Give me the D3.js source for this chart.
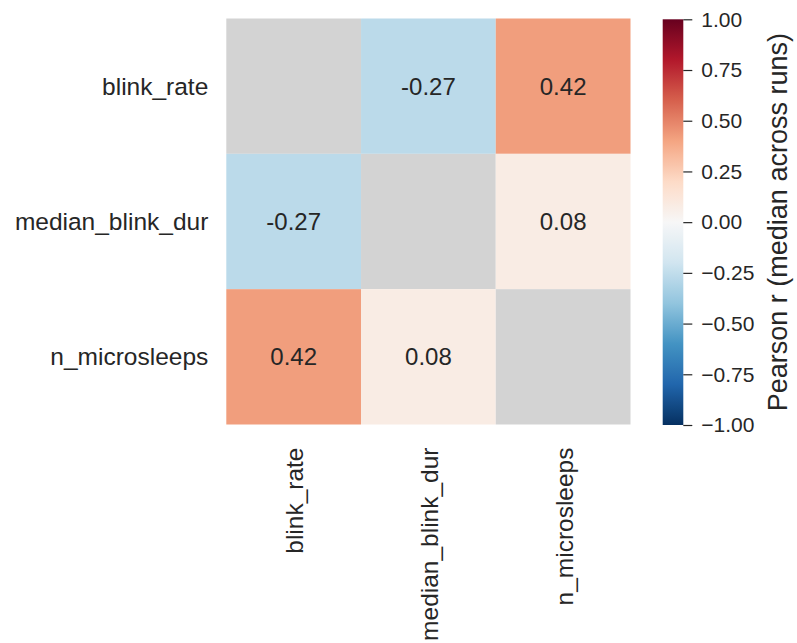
<!DOCTYPE html>
<html>
<head>
<meta charset="utf-8">
<script src="https://cdn.jsdelivr.net/npm/d3@7"></script>
<style>
  html, body { margin: 0; padding: 0; background: #fff; }
  svg text { font-family: "Liberation Sans", Arial, sans-serif; fill: #262626; }
</style>
</head>
<body>
<svg id="chart" width="797" height="643"></svg>
<script>
// Feature names (rows and columns of the correlation matrix)
const features = ["blink_rate", "median_blink_dur", "n_microsleeps"];
// Median Pearson r across runs; diagonal is masked (null)
const rowBlinkRate = [null, -0.27, 0.42];
const rowMedianDur = [-0.27, null, 0.08];
const rowMicrosleeps = [0.42, 0.08, null];
const matrix = [rowBlinkRate, rowMedianDur, rowMicrosleeps];
// Colorbar ticks
const cbarTicks = [-1.0, -0.75, -0.5, -0.25, 0.0, 0.25, 0.5, 0.75, 1.0];
const cbarLabel = "Pearson r (median across runs)";

// RdBu_r palette stops (diverging, blue for negative, red for positive)
const rdbuStops = ["#053061", "#2166ac", "#4393c3", "#92c5de", "#d1e5f0", "#f7f7f7",
                   "#fddbc7", "#f4a582", "#d6604d", "#b2182b", "#67001f"];
const color = d3.scaleLinear()
  .domain(d3.range(11).map(i => -1 + i * 0.2))
  .range(rdbuStops)
  .interpolate(d3.interpolateRgb)
  .clamp(true);

const svg = d3.select("#chart");
const plot = { left: 226.3, top: 18.5, right: 630.5, bottom: 424.5 };

const x = d3.scaleBand().domain(features).range([plot.left, plot.right]);
const y = d3.scaleBand().domain(features).range([plot.top, plot.bottom]);

const cells = [];
matrix.forEach((row, i) => row.forEach((v, j) => cells.push({ r: features[i], c: features[j], v })));

// Heatmap cells (masked diagonal drawn in light gray)
svg.append("g").selectAll("rect").data(cells).join("rect")
  .attr("x", d => x(d.c))
  .attr("y", d => y(d.r))
  .attr("width", x.bandwidth())
  .attr("height", y.bandwidth())
  .attr("fill", d => d.v === null ? "#d3d3d3" : color(d.v));

// Cell annotations
svg.append("g").selectAll("text").data(cells.filter(d => d.v !== null)).join("text")
  .attr("x", d => x(d.c) + x.bandwidth() / 2)
  .attr("y", d => y(d.r) + y.bandwidth() / 2)
  .attr("text-anchor", "middle")
  .attr("dominant-baseline", "central")
  .style("font-size", "24px")
  .text(d => d3.format(".2f")(d.v).replace("\u2212", "-"));

// Row labels
svg.append("g").selectAll("text").data(features).join("text")
  .attr("x", plot.left - 18)
  .attr("y", d => y(d) + y.bandwidth() / 2)
  .attr("text-anchor", "end")
  .attr("dominant-baseline", "central")
  .style("font-size", "24.5px")
  .text(d => d);

// Column labels, rotated
svg.append("g").selectAll("text").data(features).join("text")
  .attr("transform", d => `translate(${x(d) + x.bandwidth() / 2 + 1},${plot.bottom + 23}) rotate(-90)`)
  .attr("text-anchor", "end")
  .attr("dominant-baseline", "central")
  .style("font-size", "24.5px")
  .text(d => d);

// Colorbar
const cb = { x: 662.7, w: 20.6, top: 19.3, bottom: 425 };
const defs = svg.append("defs");
const grad = defs.append("linearGradient").attr("id", "cbgrad")
  .attr("x1", 0).attr("y1", 1).attr("x2", 0).attr("y2", 0);
d3.range(0, 1.0001, 0.02).forEach(t => {
  grad.append("stop").attr("offset", t).attr("stop-color", color(-1 + 2 * t));
});
svg.append("rect")
  .attr("x", cb.x).attr("y", cb.top)
  .attr("width", cb.w).attr("height", cb.bottom - cb.top)
  .attr("fill", "url(#cbgrad)");

const cbScale = d3.scaleLinear().domain([-1, 1]).range([cb.bottom, cb.top]);
const cbAxis = d3.axisRight(cbScale)
  .tickValues(cbarTicks)
  .tickSize(9)
  .tickPadding(9)
  .tickFormat(v => d3.format(".2f")(v));
const cbG = svg.append("g")
  .attr("transform", `translate(${cb.x + cb.w},0)`)
  .call(cbAxis);
cbG.select(".domain").remove();
cbG.selectAll(".tick line").attr("stroke", "#262626").attr("stroke-width", 1.2);
cbG.selectAll(".tick text")
  .style("font-size", "21px")
  .style("font-family", "'Liberation Sans', Arial, sans-serif")
  .attr("fill", "#262626");

svg.append("text")
  .attr("transform", `translate(778,${(cb.top + cb.bottom) / 2}) rotate(-90)`)
  .attr("text-anchor", "middle")
  .attr("dominant-baseline", "central")
  .style("font-size", "27px")
  .text(cbarLabel);
</script>
</body>
</html>
